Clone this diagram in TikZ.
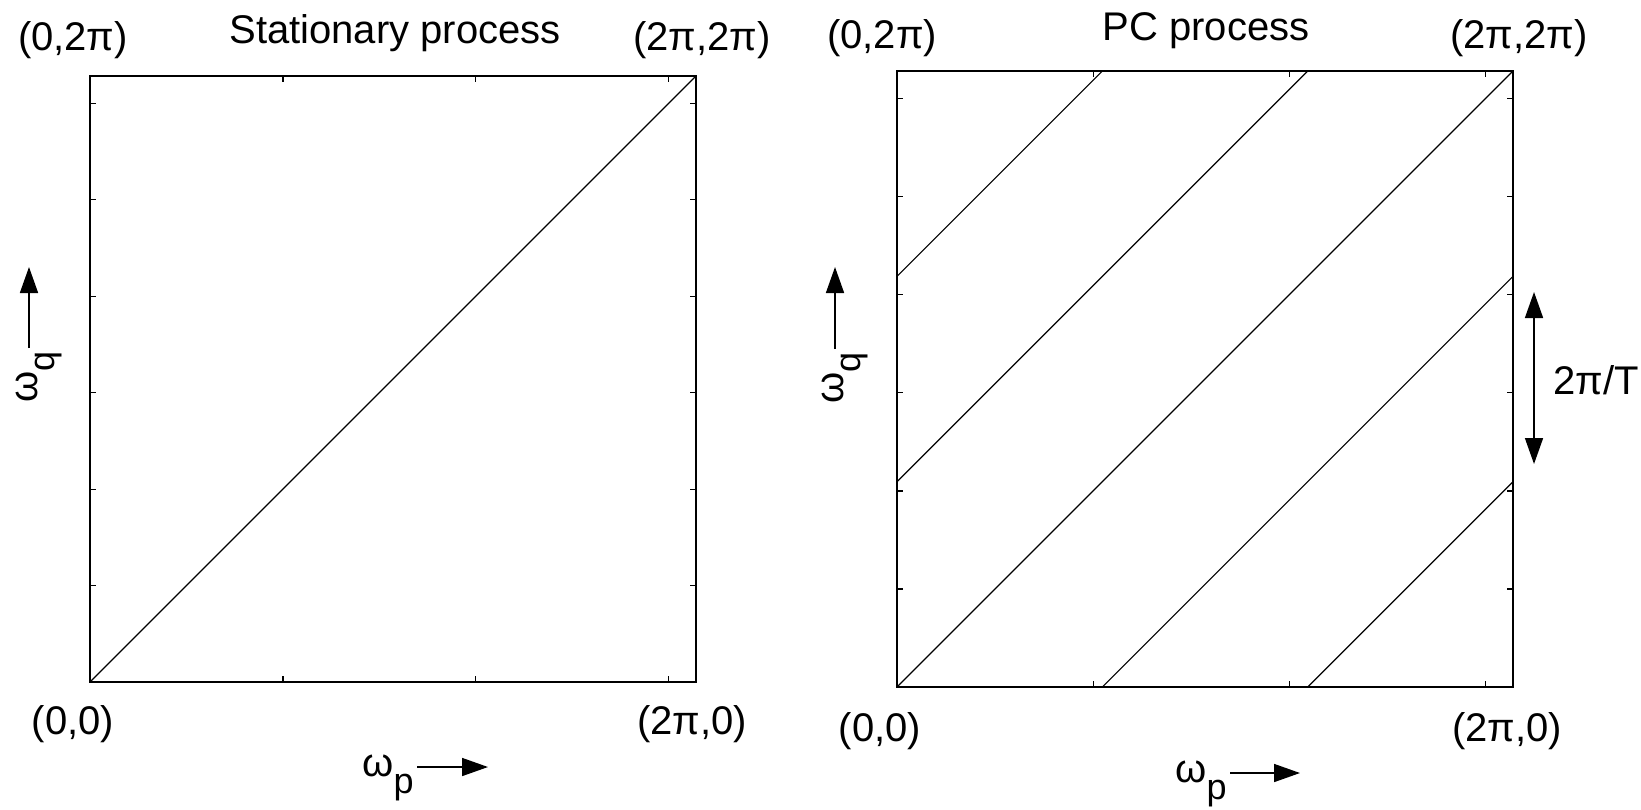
\documentclass[tikz,border=0pt]{standalone}
\usepackage{fontspec}
\setmainfont{Liberation Sans}
\usetikzlibrary{arrows.meta,calc}
\newcommand{\lowsub}[1]{\raisebox{-0.44em}{\fontsize{18}{20}\selectfont #1}}

\begin{document}
\begin{tikzpicture}[
  x=0.5pt, y=-0.5pt,
  font=\fontsize{20}{24}\selectfont,
  frame/.style={line width=1.2pt},
  curve/.style={line width=0.6pt},
  tick/.style={line width=0.6pt},
  lbl/.style={inner sep=0pt, anchor=base},
  axarr/.style={-{Triangle[length=13pt,width=9pt]}, line width=0.8pt, shorten <=1.5pt}
]
\useasboundingbox (0,0) rectangle (1641,809);

% Left panel — stationary process
\begin{scope}[shift={(90,682)}, x=48.225pt, y=48.225pt]
  \draw[frame] (0,0) rectangle (2*pi,2*pi);
  \foreach \t in {2,4,6} {
    \draw[tick] (\t,0) -- ++(0,3pt);
    \draw[tick] (\t,2*pi) -- ++(0,-3pt);
  }
  \foreach \t in {1,...,6} {
    \draw[tick] (0,\t) -- ++(3pt,0);
    \draw[tick] (2*pi,\t) -- ++(-3pt,0);
  }
  \draw[curve] (0,0) -- (2*pi,2*pi);
\end{scope}

\node[lbl] (titleL) at (395,43) {Stationary process};
\node[lbl] (tlL) at (73,50) {(0,2π)};
\node[lbl] (trL) at (702,50) {(2π,2π)};
\node[lbl] (blL) at (73,734) {(0,0)};
\node[lbl] (brL) at (692,734) {(2π,0)};

% axis names
\node[lbl, anchor=base east] (wpL) at (414,776) {ω\lowsub{p}};
\coordinate (wpLtip) at (488,767);
\draw[axarr] (wpL.east |- wpLtip) -- (wpLtip);
\node[lbl, rotate=90, anchor=base east] (wqL) at (37,351) {ω\lowsub{q}};
\coordinate (wqLtip) at (29,267);
\draw[axarr] (wqLtip |- wqL.east) -- (wqLtip);

% Right panel — PC process
\begin{scope}[shift={(897,687)}, x=49.02pt, y=49.02pt]
  \draw[frame] (0,0) rectangle (2*pi,2*pi);
  \foreach \t in {2,4,6} {
    \draw[tick] (\t,0) -- ++(0,3pt);
    \draw[tick] (\t,2*pi) -- ++(0,-3pt);
  }
  \foreach \t in {1,...,6} {
    \draw[tick] (0,\t) -- ++(3pt,0);
    \draw[tick] (2*pi,\t) -- ++(-3pt,0);
  }
  % support lines, spaced 2pi/T with T=3
  \foreach \xa/\ya/\xb/\yb in {0/0/3/3, 0/1/2/3, 0/2/1/3, 1/0/3/2, 2/0/3/1}
    \draw[curve] ({\xa*2*pi/3},{\ya*2*pi/3}) -- ({\xb*2*pi/3},{\yb*2*pi/3});
\end{scope}

\node[lbl] (titleR) at (1206,40) {PC process};
\node[lbl] (tlR) at (882,48) {(0,2π)};
\node[lbl] (trR) at (1519,48) {(2π,2π)};
\node[lbl] (blR) at (880,741) {(0,0)};
\node[lbl] (brR) at (1507,741) {(2π,0)};

\node[lbl, anchor=base east] (wpR) at (1227,782) {ω\lowsub{p}};
\coordinate (wpRtip) at (1300,773);
\draw[axarr] (wpR.east |- wpRtip) -- (wpRtip);
\node[lbl, rotate=90, anchor=base east] (wqR) at (843,352) {ω\lowsub{q}};
\coordinate (wqRtip) at (835,267);
\draw[axarr] (wqRtip |- wqR.east) -- (wqRtip);

% period marker
\coordinate (perTop) at (1534,292);
\coordinate (perBot) at (1534,464);
\draw[line width=0.8pt, {Triangle[length=13pt,width=9pt]}-{Triangle[length=13pt,width=9pt]}]
  (perTop) -- (perBot);
\node[inner sep=0pt, anchor=west] (perLbl) at (1553,380) {2π/T};

\end{tikzpicture}
\end{document}
